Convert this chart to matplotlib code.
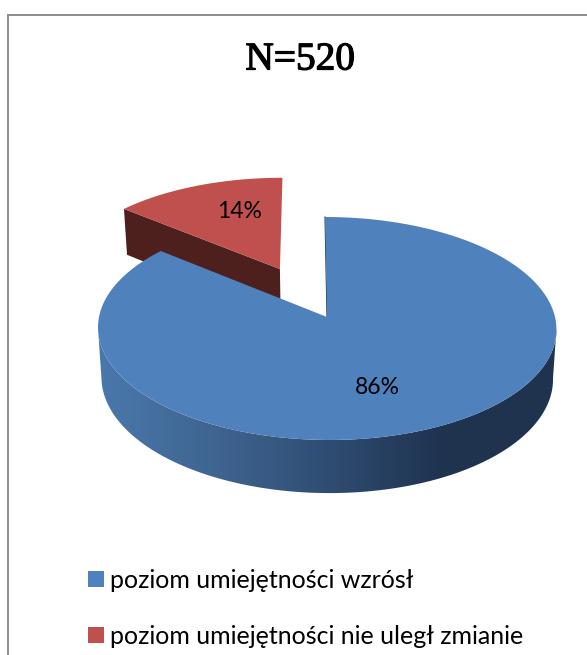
#%% 3D looking pie, drawn on an axes measured in image pixels
import numpy as np
import matplotlib
matplotlib.use('Agg')
import matplotlib.pyplot as plt
import matplotlib.patheffects as pe
from matplotlib.colors import LinearSegmentedColormap
from matplotlib.patches import Patch, Polygon

#%% Data
title = 'N=520'
labels = ['poziom umiejętności wzrósł', 'poziom umiejętności nie uległ zmianie']
shares = [86, 14]
colors = ['#4F81BD', '#C0504D']
red_wall = '#4D1F1D'
side_stops = ['#4A78AC', '#3F6591', '#2F4D73', '#1F334F', '#1F334F']

#%% Pie geometry (px)
W, H = 587, 655
cx, cy = 327, 317
R = 228
a = 110.3      # vertical radius
k = 0.103      # perspective
drop = 49.3    # thickness of the pie
shrink = 0.985 # bottom rim is a bit smaller
explode = 0.525
red_nudge = np.array([2.5, 2.0])


def project(u, v, bottom=False):
    # unit disc -> image, top face or bottom face
    s = shrink if bottom else 1.0
    d = drop if bottom else 0.0
    w = 1 + k * v
    return cx + s * R * u / w - 2.2 * v / w, cy + (d - s * a * v) / w


def rim(t0, t1, off=(0, 0), bottom=False, n=200):
    # angles clockwise from the top, degrees
    t = np.radians(np.linspace(t0, t1, n))
    x, y = project(np.sin(t) + off[0], np.cos(t) + off[1], bottom)
    return np.column_stack([x, y])


blue_end = 360 * shares[0] / sum(shares)
red_mid = np.radians((blue_end + 360) / 2)
off = (explode * np.sin(red_mid), explode * np.cos(red_mid))

fig = plt.figure(figsize=(W / 100, H / 100), dpi=100)
ax = fig.add_axes([0, 0, 1, 1])
ax.set_xlim(0, W)
ax.set_ylim(H, 0)
ax.axis('off')

# frame, open on the right and at the bottom
ax.plot([8, 8, W], [H, 15, 15], color='#8C8C8C', lw=1.4, solid_joinstyle='miter')

#%% Red slice
apex = np.array(project(off[0], off[1])) + red_nudge
apex_low = np.array(project(off[0], off[1], True)) + red_nudge
corner = rim(blue_end, blue_end, off, n=1)[0] + red_nudge
corner_low = rim(blue_end, blue_end, off, True, n=1)[0] + red_nudge
ax.add_patch(Polygon([apex, corner, corner_low, apex_low], color=red_wall, lw=0))
red_top = np.vstack([[apex], rim(blue_end, 360, off) + red_nudge])
ax.add_patch(Polygon(red_top, color=colors[1], lw=0))

#%% Blue slice, side with a gradient then the top face
# the side runs between the two points where the rim is widest
t_wide = np.degrees(np.arccos(-k))
top_part = rim(t_wide, 360 - t_wide)
low_part = rim(t_wide, 360 - t_wide, bottom=True)
side = Polygon(np.vstack([top_part, low_part[::-1]]), facecolor='none', lw=0)
ax.add_patch(side)
cmap = LinearSegmentedColormap.from_list('side', side_stops)
img = ax.imshow(np.linspace(0, 1, 256).reshape(1, -1), cmap=cmap, aspect='auto',
                extent=[98, 557, 500, 300], zorder=2)
img.set_clip_path(side)
ax.set_xlim(0, W)
ax.set_ylim(H, 0)

blue_top = np.vstack([[(cx, cy)], rim(0, blue_end)])
ax.add_patch(Polygon(blue_top, color=colors[0], lw=0, zorder=3))
edge = rim(0, 0, n=1)[0]
ax.plot([cx, edge[0]], [cy, edge[1]], color='#1F334F', lw=0.8, zorder=2.5)

#%% Texts
ax.text(300, 60, title, family='Liberation Serif', fontsize=28.3, ha='center', va='center',
        color='black', zorder=4, path_effects=[pe.withStroke(linewidth=0.9, foreground='black')])
ax.text(377, 387, f'{shares[0]}%', family='Lato', fontsize=16.5, ha='center',
        va='center', color='black', zorder=4)
ax.text(240, 211, f'{shares[1]}%', family='Lato', fontsize=16.5, ha='center',
        va='center', color='black', zorder=4)

handles = [Patch(color=c, lw=0) for c in colors]
ax.legend(handles, labels, loc='upper left', bbox_to_anchor=(88 / W, 1 - 569 / H),
          frameon=False, prop={'family': 'Lato', 'size': 18}, borderaxespad=0, borderpad=0,
          handlelength=0.62, handleheight=0.62, handletextpad=0.24, labelspacing=1.3,
          labelcolor='black')

fig.savefig('out.png', dpi=100)
